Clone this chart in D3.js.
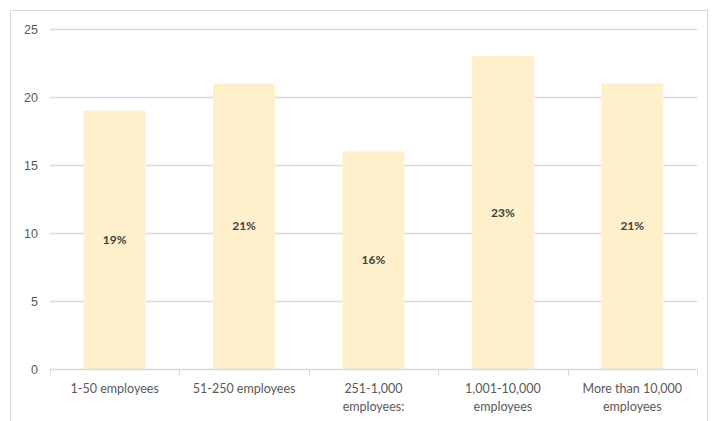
<!DOCTYPE html>
<html>
<head>
<meta charset="utf-8">
<script src="https://cdn.jsdelivr.net/npm/d3@7"></script>
<style>
  html, body { margin: 0; padding: 0; background: #fff; }
  svg { display: block; font-family: Lato, "Open Sans", "Liberation Sans", sans-serif; }
</style>
</head>
<body>
<svg id="chart" width="715" height="421"></svg>
<script>
// Company size groups (each label split into display lines)
const categories = [
  ["1-50 employees"],
  ["51-250 employees"],
  ["251-1,000", "employees:"],
  ["1,001-10,000", "employees"],
  ["More than 10,000", "employees"]
];
const values = [19, 21, 16, 23, 21];
const yTicks = [0, 5, 10, 15, 20, 25];

const svg = d3.select("#chart");
const margin = { left: 50, right: 18, top: 29, bottom: 52 };
const W = 715, H = 421;

// outer chart frame
svg.append("rect")
  .attr("x", 10.5).attr("y", 10.5)
  .attr("width", 697).attr("height", 430)
  .attr("fill", "#fff").attr("stroke", "#d9d9d9");

const x = d3.scaleBand()
  .domain(d3.range(categories.length))
  .range([margin.left, W - margin.right])
  .paddingInner(0.52).paddingOuter(0.26);

const y = d3.scaleLinear().domain([0, 25]).range([369, 29]);

// horizontal gridlines
svg.append("g").selectAll("line")
  .data(yTicks.filter(d => d > 0))
  .join("line")
  .attr("x1", margin.left).attr("x2", W - margin.right)
  .attr("y1", d => Math.round(y(d)) + 0.5).attr("y2", d => Math.round(y(d)) + 0.5)
  .attr("stroke", "#d9d9d9").attr("stroke-width", 1.5);

// y axis labels
const yAxis = d3.axisLeft(y).tickValues(yTicks).tickSize(0).tickPadding(12);
svg.append("g")
  .attr("transform", `translate(${margin.left},0)`)
  .call(yAxis)
  .call(g => g.select(".domain").remove())
  .call(g => g.selectAll("text")
    .attr("fill", "#595959").attr("font-size", 12.5));

// bars
svg.append("g").selectAll("rect")
  .data(values)
  .join("rect")
  .attr("x", (d, i) => x(i))
  .attr("width", x.bandwidth())
  .attr("y", d => y(d))
  .attr("height", d => y(0) - y(d))
  .attr("fill", "#fff0cc");

// value labels centred inside each bar
svg.append("g").selectAll("text")
  .data(values)
  .join("text")
  .attr("x", (d, i) => x(i) + x.bandwidth() / 2)
  .attr("y", d => (y(d) + y(0)) / 2)
  .attr("dy", "0.35em")
  .attr("text-anchor", "middle")
  .attr("font-size", 12).attr("font-weight", "bold")
  .attr("fill", "#404040")
  .text(d => d + "%");

// category axis line and separators between groups
const step = x.step();
const x0 = margin.left;
const baseY = Math.round(y(0)) + 0.5;
svg.append("line")
  .attr("x1", x0).attr("x2", W - margin.right)
  .attr("y1", baseY).attr("y2", baseY)
  .attr("stroke", "#d9d9d9").attr("stroke-width", 1.5);
svg.append("g").selectAll("line")
  .data(d3.range(categories.length + 1))
  .join("line")
  .attr("x1", i => Math.round(x0 + i * (W - margin.right - x0) / categories.length) + 0.5)
  .attr("x2", i => Math.round(x0 + i * (W - margin.right - x0) / categories.length) + 0.5)
  .attr("y1", baseY).attr("y2", baseY + 6)
  .attr("stroke", "#d9d9d9");

// category labels
const lab = svg.append("g").selectAll("text")
  .data(categories)
  .join("text")
  .attr("x", (d, i) => x(i) + x.bandwidth() / 2)
  .attr("y", 393)
  .attr("text-anchor", "middle")
  .attr("font-size", 12.5)
  .attr("fill", "#595959");
lab.selectAll("tspan")
  .data(d => d)
  .join("tspan")
  .attr("x", function () { return this.parentNode.getAttribute("x"); })
  .attr("dy", (d, i) => i === 0 ? 0 : 18)
  .text(d => d);
</script>
</body>
</html>
